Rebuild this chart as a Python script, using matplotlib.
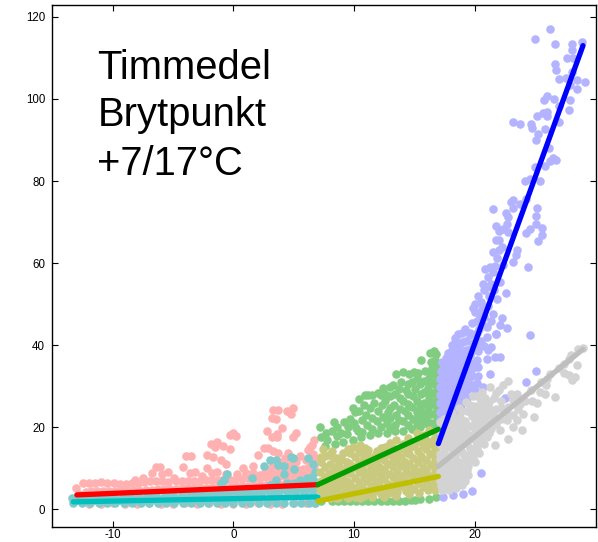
import matplotlib
matplotlib.use('Agg')
from matplotlib import pyplot as plt

# values, (outdoor temp, hourly mean)
pink = [(-13.1,5.3),(-12.5,6.3),(-12,6.5),(-11.5,6.4),(-11,6.6),(-10.5,6.5),(-9.9,6.4),(-9.4,6.2),(-8.9,6.2),(-8.4,6.4),
        (-7.9,6.5),(-7.4,6.7),(-6.9,6.9),(-6.4,6.8),(-5.9,6.9),(-5.4,6.6),(-4.8,6.8),(-4.3,6.9),(-3.8,7),(-3.3,6.9),
        (-2.8,7),(-2.3,7.1),(-1.8,7.2),(-1.3,7.1),(-0.8,7.3),(-0.3,7.2),(0.2,7.4),(0.7,7.3),(1.2,7.5),(1.7,7.6),
        (2.2,7.5),(2.7,7.8),(3.2,7.7),(3.7,7.9),(4.2,8),(4.7,8.2),(5.2,8.3),(5.7,8.6),(6.2,8.8),(6.7,9),
        (-12.8,3.8),(-12.2,4.2),(-11.8,4.4),(-11.3,4.5),(-10.8,4.5),(-10.3,4.5),(-9.8,4.5),(-9.3,4.6),(-8.8,4.6),(-8.3,4.7),
        (-7.8,4.7),(-7.3,4.8),(-6.8,4.8),(-6.3,4.9),(-5.8,5),(-5.3,5),(-4.8,5),(-4.3,5.1),(-3.8,5.2),(-3.3,5.2),
        (-2.8,5.3),(-2.3,5.3),(-1.8,5.4),(-1.3,5.5),(-0.8,5.5),(-0.3,5.5),(0.2,5.6),(0.7,5.7),(1.2,5.7),(1.7,5.8),
        (2.2,5.9),(2.7,6),(3.2,6.1),(3.7,6.1),(4.2,6.2),(4.7,6.3),(5.2,6.3),(5.7,6.4),(6.2,6.4),(6.8,6.5),
        (-12,1.4),(-11,1.4),(-10,1.5),(-9,1.4),(-8,1.4),(-7,1.5),(-6,1.4),(-5,1.4),(-4,1.5),(-3,1.4),(-2,1.5),(-1,1.4),
        (0,1.4),(1,1.4),(2,1.5),(3,1.4),(4,1.4),(5,1.5),(6,1.5),(6.8,1.5),
        (4.9,24.8),(4.4,23.9),(4.8,23.3),(3.7,24.3),(3.3,24.1),(3.2,22.3),(3.5,21.9),(4.05,19.7),(2.75,19),(3.6,18.3),
        (3.2,17.6),(3.6,17.5),(5.2,18.5),(4.96,17.5),(0,18.6),(-0.3,18.2),(0.2,17.8),(-1.9,15.9),(-1.4,16.3),(-0.9,15.4),
        (-1.5,15.2),(-0.25,14.6),(6.5,15.6),(6.2,14.4),(6.35,15.2),(2.5,15),(2.9,15),(3.3,14.2),(3.7,13.7),(4.55,13.7),
        (4.3,12.6),(2.05,13.2),(-2.2,13.2),(-1.7,12.8),(-3.9,13),(-3.5,13),(-1,12),(-0.6,11),(-6.4,10.3),(-6.1,10.3),
        (-4.2,10.2),(-2.2,10),(0.8,10),(1.64,10.5),(-5.4,9.1),(-5.9,8.5),(-6.8,8.9),(-3.2,9.1),(-3.6,8.9),(-1.8,8.9),
        (-1.4,9.1),(-4.9,7.7),(2.2,8.3),(3.3,8.7),(5.8,9.9),(6.4,11),(6.8,12.5),(6,12),(5.2,11.5),(4.6,10.8),
        (3.8,9.8),(2.8,9.6),(1,8.8),(-0.6,8.6),(-2.6,8),(-7.5,7.6),(-8.2,7.2),(6.6,13.4),(5.5,13),(6.7,17),
        (2.6,9),(3.2,10.2),(3.9,11.5),(4.8,10),(5.4,9.6),(6.2,10),(6.7,10.5),(1.6,8.8),(0.3,8.6),(4.4,9)]

teal = [(-13.4,2.8),(-13.3,1.6),(-12.7,3),(-12.6,1.6),(-12,3),(-11.9,1.5),(-11.3,3.1),(-11.2,1.6),(-10.6,3.2),(-10.5,1.5),
        (-9.9,3.1),(-9.8,1.5),(-9.2,3.2),(-9.1,1.6),(-8.5,3.3),(-8.4,1.5),(-7.8,3.2),(-7.7,1.6),(-7.1,3.4),(-7,1.5),
        (-6.4,3.5),(-6.3,1.6),(-5.7,3.5),(-5.6,1.5),(-5,3.6),(-4.9,1.6),(-4.3,3.7),(-4.2,1.5),(-3.6,3.7),(-3.5,1.6),
        (-2.9,3.8),(-2.8,1.5),(-2.2,3.9),(-2.1,1.6),(-1.5,4.1),(-1.4,1.5),(-0.8,4.2),(-0.7,1.6),(-0.1,4.4),(0,1.5),
        (0.6,4.4),(0.7,1.6),(1.3,4.5),(1.4,1.5),(2,4.6),(2.1,1.6),(2.7,4.6),(2.8,1.5),(3.4,4.8),(3.5,1.6),
        (4.1,4.9),(4.2,1.5),(4.8,5),(4.9,1.6),(5.5,5.1),(5.6,1.5),(6.2,5.2),(6.3,1.6),(6.8,5.3),(6.8,1.6),
        (-13,2.2),(-12.3,2.2),(-11.6,2.2),(-10.9,2.3),(-10.2,2.2),(-9.5,2.3),(-8.8,2.3),(-8.1,2.3),(-7.4,2.4),(-6.7,2.4),
        (-6,2.4),(-5.3,2.5),(-4.6,2.5),(-3.9,2.5),(-3.2,2.6),(-2.5,2.6),(-1.8,2.7),(-1.1,2.7),(-0.4,2.8),(0.3,2.8),
        (1,2.9),(1.7,3),(2.4,3),(3.1,3.1),(3.8,3.2),(4.5,3.2),(5.2,3.3),(5.9,3.4),(6.6,3.4),
        (-3.3,3.4),(-2.6,3.5),(-1.9,3.6),(-1.2,3.7),(-0.5,3.8),(0.2,3.9),(0.9,3.9),(1.6,4),(2.3,4.1),(3,4.2),(3.7,4.3),(4.4,4.3),
        (5.1,4.4),(5.8,4.5),(6.5,4.6),
        (-0.5,8.5),(-0.76,7.1),(-1,6.3),(1.56,7.7),(2.5,10.6),(3,12.1),(3.5,12.1),(3.66,10.7),(4.2,10.5),(4.8,12.8),
        (4.96,12.4),(5.05,9.9),(6.15,12.6),(6.6,11.1),(3.5,7.1),(4.2,8.5),(5.5,7.1),(6.1,7.5),(6.5,7.9),(4.4,6.3),
        (6.8,9),(6.3,6.6),(5.8,6.5),(6.7,7),(5,6.3),(3,6)]

green = [(7.2,20),(7.3,17.6),(7.7,18.5),(8.3,21.3),(8.2,19),(8.9,18.5),(9.67,22),(9.5,20),(10.1,23.7),(10,21),
         (10.3,19),(10.9,27.8),(11.2,27.8),(10.8,25.5),(11,23),(11.1,20.5),(11.7,26),(12.2,27.8),(12,24),(11.9,21.5),
         (12.6,26.4),(12.8,23.8),(12.7,21),(13,29.8),(13.4,28),(13.3,25.5),(13.5,23),(13.4,20.5),(13.5,33),(14.1,33.5),
         (13.9,31),(14.3,29),(14.1,26.5),(14.2,24),(14.1,21.5),(14.8,31),(14.9,27.5),(14.8,25),(14.9,22),(15.3,33.3),
         (15.5,30.5),(15.6,28),(15.5,25),(15.4,22.5),(15.6,36.3),(16.2,32),(16.1,29.5),(16.2,27),(16.1,24.5),(16,22),
         (16.6,38.6),(16.3,38.2),(16.7,36.3),(16.5,34.5),(16.8,33),(16.7,30.5),(16.8,28),(16.7,25.5),(16.8,23),(16.7,20.5),
         (7.6,15.5),(8.4,16),(9.1,16.5),(9.9,17),(10.6,17.5),(11.3,18),(12,18.5),(12.7,18.5),(13.4,19),(14.1,19),
         (14.8,19.5),(15.5,20),(16.2,20.5),(8.7,1.9),(9.7,1.9),(10.7,1.9),(11.7,2),(12.7,2),(13.7,2.1),(14.7,2.2),
         (15.5,2.4),(16.2,2.6),(16.8,2.9),(7.3,1.9),(8.2,1.9),(9.2,1.9),(10.2,1.9),(11.2,2),(12.2,2),(13.2,2),(14.2,2.1),(15.1,2.3),
         (7.8,16.8),(8.6,17.8),(9.4,18.4),(10.2,19.8),(10.7,21.8),(10.4,24),(11.3,24.6),(10.7,18.8),(11.5,19.6),(12.2,20),
         (11.5,22.2),(12.4,22.6),(12.3,25.4),(13,27.6),(13,24.8),(13,22.2),(13,19.8),(13.7,29.4),(13.8,27),(13.8,24.4),
         (13.7,21.8),(14.5,30.6),(14.5,28),(14.5,25.6),(14.5,23),(14.5,20.6),(15.2,32),(15.1,29.2),(15.2,26.4),(15.2,23.6),
         (15.2,21),(15.9,33.6),(15.8,31.2),(15.8,28.6),(15.8,26),(15.8,23.4),(15.8,21),(16.4,35.8),(16.4,33.2),(16.4,30.8),
         (16.4,28.4),(16.4,25.8),(16.4,23.2),(16.4,21),(16.8,37.8),(16.9,34.6),(16.9,31.8),(16.9,29.2),(16.9,26.8),(16.9,24.2),
         (16.9,21.8),(12,28.4),(11.5,27.8),(14.6,33),(16.9,19.8),(15,33.4),(10.4,26.8),(9.9,24.8),(9.2,21.2),(8.6,20),
         (12.6,28.2),(13.2,30.4),(12.4,29.6)]

olive = [(7.4,14.8),(7.9,13.2),(8.6,12.5),(9.1,13.6),(9.9,15.2),(10.5,15.6),(11.2,14.5),(11.9,14.2),(12.6,15.2),(13.5,16.8),
         (14.1,16),(14.6,16.6),(15.2,18.5),(15.8,18),(16.2,19.3),(16.7,18.8),(16.9,17.6),
         (7.3,11.5),(8,11),(8.7,10.8),(9.4,11.6),(10.1,12.8),(10.8,12.8),(11.5,12.6),(12.2,12.6),(12.9,13.5),(13.6,14),(14.3,14),(15,15.4),(15.7,15.6),(16.4,16),(16.9,15.4),
         (7.2,9),(7.9,8.8),(8.6,8.8),(9.3,9.2),(10,10.2),(10.7,10.4),(11.4,10.2),(12.1,10.4),(12.8,11),(13.5,11.6),(14.2,11.6),(14.9,12.6),(15.6,13),(16.3,13.4),(16.9,13),
         (7.3,6.8),(8,6.6),(8.7,6.6),(9.4,7),(10.1,7.6),(10.8,7.8),(11.5,7.8),(12.2,8.2),(12.9,8.6),(13.6,9),(14.3,9.2),(15,10),(15.7,10.4),(16.4,10.8),(16.9,10.6),
         (7.2,4.6),(7.9,4.6),(8.6,4.6),(9.3,4.8),(10,5.2),(10.7,5.4),(11.4,5.6),(12.1,5.8),(12.8,6.2),(13.5,6.6),(14.2,6.8),(14.9,7.4),(15.6,7.8),(16.3,8.2),(16.9,8),
         (7.3,2.8),(8,2.8),(8.7,2.8),(9.4,2.9),(10.1,3.1),(10.8,3.3),(11.5,3.5),(12.2,3.7),(12.9,3.9),(13.6,4.2),(14.3,4.5),(15,4.9),(15.7,5.4),(16.4,5.8),(16.9,5.6),
         (7.6,13),(8.3,12.6),(9,12),(9.7,13.6),(10.4,14),(11.1,13.6),(11.8,13.4),(12.5,13.8),(13.2,15),(13.9,15),(14.6,15),(15.3,16.6),(16,16.8),(16.6,17.2),
         (7.6,10.2),(8.3,9.8),(9,9.8),(9.7,11),(10.4,11.6),(11.1,11.4),(11.8,11.4),(12.5,12),(13.2,12.6),(13.9,12.8),(14.6,13.4),(15.3,14.2),(16,14.6),(16.7,14.4),
         (7.6,7.8),(8.3,7.6),(9,8),(9.7,8.8),(10.4,9),(11.1,9),(11.8,9.2),(12.5,9.8),(13.2,10.2),(13.9,10.6),(14.6,11),(15.3,11.6),(16,12),(16.7,12),
         (7.6,5.6),(8.3,5.6),(9,5.8),(9.7,6.2),(10.4,6.6),(11.1,6.8),(11.8,7),(12.5,7.4),(13.2,7.8),(13.9,8),(14.6,8.6),(15.3,9),(16,9.6),(16.7,9.4),
         (7.6,3.7),(8.3,3.7),(9,3.8),(9.7,3.9),(10.4,4.2),(11.1,4.4),(11.8,4.6),(12.5,4.9),(13.2,5.2),(13.9,5.6),(14.6,6),(15.3,6.4),(16,6.9),(16.7,6.8),
         (16.7,4.6),(16.1,4.6),(15.4,4),(14.6,3.6),(13.5,3.3),(12.5,3),(11.5,2.9),(10.5,2.8),(9.5,2.7),(8.5,2.7),
         (8,8.2),(8.9,6.9),(9.4,10.4),(10.8,9),(11.4,8.4),(12.2,9.1),(13.6,7.4),(14.3,10.2),(15,8.8),(15.8,8.8),
         (7.3,12.8),(8.2,14.2),(9.5,14.6),(10.9,15),(12.2,15),(13,16.2),(14.5,17.4),(15.6,17.4)]

blue = [(26.27,117),(25,114.6),(26.7,113.5),(28.1,113.4),(28.95,113.9),(28.1,111.9),(27.65,110.1),(28.15,110.1),(26.65,108.4),(26.8,107),
        (28.05,106.6),(27.05,104.8),(27.55,105.2),(28.5,104.6),(29.2,104.2),(27.9,103.4),(28.5,102.4),(26,100.8),(25.8,99.8),(26.6,100),
        (27.9,99.8),(27.05,98.4),(27.8,97.4),(25.15,95.9),(25.7,96.5),(26,96.9),(26,95.9),(23.2,94.3),(23.8,94),(24.7,94),
        (24.8,93),(25.85,92.6),(27,94.4),(25.3,91.4),(25.1,90.1),(26.2,88.1),(26.55,85.6),(26.8,85.2),(26.3,84.8),(25.85,83.7),
        (25,83.5),(24.15,80),(24.6,80.6),(25.45,80),(23.2,75.3),(23,74.9),(23.8,74.5),(23.2,73.5),(24.3,75.7),(21.5,73.3),
        (25.15,73.5),(22.6,72.1),(22.8,71.3),(25.1,71.5),(25.1,69.6),(21.8,69.1),(22.7,69.6),(22.4,68.4),(22.05,67.8),(22.8,67.6),
        (24.6,68.4),(24.25,67.3),(25.6,68.6),(25.6,66.8),(25.3,65.5),(21.75,65.6),(22,65.7),(22.25,63.9),(22,63.1),(21.55,62.6),
        (21.85,61.3),(23.5,63.1),(23.45,61.9),(23.2,60.3),(24.4,59.1),(20.9,58.5),(21.3,59.1),(21.7,59.2),(22.4,59.5),(21.15,56.6),
        (21.4,55),(22.1,55.4),(20.75,53.4),(21,54.2),(22.6,52.6),(20.05,50.1),(21.85,51.3),(20.5,50.5),(21.55,47.7),(22.3,46.5),
        (22.1,45),(22.7,44.1),(21.75,42.6),(24.6,42.4),(18.65,42.8),(18.4,41.8),(20.2,46),(20.75,46.9),(21,44.4),(19.65,42.4),
        (20.6,48.9),(21.76,42.7),(21.4,39.6),(21.15,38.8),(21,36.7),(21.7,37.2),(22.1,37.2),(21.3,33),(25.07,33.6),(24.25,30.9),
        (20.7,29.8),(22.5,27.2),(20.55,8.9),(19.75,4.4),(19.05,3.8),(18.2,3.4),(17.4,3),(20,48),(19.8,45.5),(20.4,44),
        (19.2,44),(19.3,41),(19.9,40.5),(20.5,41),(18.1,40),(18.7,39.8),(20.3,38.5),(17.8,38),(18.4,37.8),(19,38),
        (19.6,37.6),(20.2,36.5),(17.3,36),(17.9,35.8),(18.5,35.7),(19.1,35.9),(19.7,35.5),(20.3,34.6),(17.2,33.8),(17.8,33.8),
        (18.4,33.6),(19,33.7),(19.6,33.4),(20.3,32.6),(17.1,31.8),(17.7,31.7),(18.3,31.6),(18.9,31.7),(19.5,31.4),(20.2,30.8),
        (17.1,29.8),(17.7,29.6),(18.3,29.6),(18.9,29.5),(19.5,29.4),(20,29),(17.1,27.8),(17.7,27.6),(18.3,27.6),(18.9,27.4),
        (19.4,27.2),(17.1,25.8),(17.7,25.6),(18.3,25.5),(18.9,25.3),(17.1,23.8),(17.7,23.6),(18.3,23.5),(17.1,21.8),(17.7,21.6),
        (18.2,21.5),(17.1,19.8),(17.6,19.8),(17.1,18),(17.6,18),
        (18.4,40.8),(19,40.8),(19.6,39),(20.2,39.6),(20.8,39.8),(18.1,38.8),(18.7,38.8),(19.3,38.8),(19.9,38.8),(17.6,36.8),
        (18.2,36.8),(18.8,36.8),(19.4,36.8),(20,36),(17.5,34.8),(18.1,34.8),(18.7,34.8),(19.3,34.8),(19.9,34.5),(17.4,32.8),
        (18,32.8),(18.6,32.8),(19.2,32.8),(19.8,32.4),(17.4,30.8),(18,30.8),(18.6,30.8),(19.2,30.6),(19.8,30.2),(17.4,28.8),
        (18,28.8),(18.6,28.8),(19.2,28.6),(17.4,26.8),(18,26.6),(18.6,26.6),(17.4,24.8),(18,24.6),(18.6,24.5),(17.4,22.8),
        (18,22.6),(17.4,20.8),(19.6,43),(20.2,43),(19,43),(20.4,47.5),(19.9,49),(20.3,52),(20.7,55),(21.5,57.8),
        (21.2,52),(21.6,53.5),(21.1,49.5),(21.4,46),(21,42),(20.6,45.5)]

grey = [(28.98,39.4),(28.6,39),(27.87,36.7),(28.5,35.1),(27.4,33.1),(27.8,32.7),(28.3,32.3),(28.05,31.5),(25.9,30.2),(25.85,28.2),
        (26.7,27.4),(24.75,26.4),(25.15,26),(24.9,22.4),(23.9,19.4),(22.8,17.2),(21.7,15.6),(22.8,31.3),(22.4,30.2),(22,29),
        (21.3,29.8),(20.6,28.6),(23.5,28.2),(23.2,26.6),(22.8,25),(24.05,23.3),(23.5,21.7),(22.7,21.7),(22.1,19.3),(23.2,20.1),
        (27,34.5),(26.3,33),(25.5,31),(24.7,29),(24.2,26.5),(23.6,24.5),(22.2,26.5),(21.6,27.2),(20.9,27),(20.2,27.6),
        (19.9,27.6),(19.3,26.2),(18.7,24.8),(18.1,23.4),(17.5,22),(17.1,21.2),(21.8,24.4),(21.2,24.8),(20.6,25.2),(20,25.2),
        (19.4,24),(18.8,22.6),(18.2,21.2),(17.6,20),(17.1,19),(22.2,22),(21.6,22),(21,22.4),(20.4,22.8),(19.8,22.8),
        (19.2,21.6),(18.6,20.4),(18,19.2),(17.4,18),(17.1,16.6),(21.4,19.6),(20.8,20),(20.2,20.4),(19.6,20.4),(19,19.2),
        (18.4,18),(17.8,17),(17.2,15.6),(21,17.6),(20.5,17.8),(19.9,18),(19.3,17),(18.7,16),(18.1,15),(17.5,14),
        (17.1,13.4),(20.8,15.8),(20.2,15.8),(19.6,15),(19,14),(18.4,13),(17.8,12),(17.2,11.2),(20.4,13.8),(19.9,13.4),
        (19.3,12.4),(18.7,11.4),(18.1,10.4),(17.5,9.8),(17.1,9),(20,11.6),(19.5,10.6),(18.9,9.6),(18.3,8.8),(17.7,8),
        (17.1,7),(19.5,8.4),(19,7.6),(18.4,6.8),(17.8,6.2),(17.2,5.6),(19,6),(18.5,5.2),(17.9,4.6),(17.3,4.8),
        (20.5,26.4),(21.2,26.2),(19.6,25.4),(18.9,24),(18.3,22.6),(17.7,21.2),(21.5,23.2),(20.9,23.6),(20.3,24),(19.7,23.6),
        (19,21.2),(18.4,20),(17.8,18.6),(17.3,17.4),(21.8,20.8),(21.2,21),(20.6,21.4),(20,21.6),(19.4,20.2),(18.8,18.8),
        (18.2,17.6),(17.6,16.4),(21.2,18.6),(20.6,18.9),(20,19.2),(19.4,18.4),(18.8,17.4),(18.2,16.4),(17.6,15.2),(20.6,16.8),
        (20,16.9),(19.4,16),(18.8,15),(18.2,14),(17.6,13),(17.1,12.2),(20.2,14.8),(19.7,14.2),(19.1,13.2),(18.5,12),
        (17.9,11),(17.4,10.4),(19.9,12.6),(19.4,11.6),(18.8,10.6),(18.2,9.6),(17.6,9),(17.1,8.2),(19.4,9.6),(18.8,8.7),
        (18.2,7.8),(17.6,7.1),(19.2,7),(18.7,6.4),(18.1,5.7),(17.5,5),(22.7,23.4),(23.2,23),(22.2,24.6),(23,28),
        (21.8,28.4),(23.8,25.6),(25.4,28.5),(26,31.8),(27.4,35.5),(28,37.5)]

red_x, red_y = [-13, 7], [3.5, 6]
teal_x, teal_y = [-13.3, 7], [1.8, 3]
green_x, green_y = [7, 17], [6, 19.5]
olive_x, olive_y = [7, 17], [2, 8]
blue_x, blue_y = [17, 29], [16, 113]
grey_x, grey_y = [17, 29], [10.5, 39]

plt.rcParams['font.family'] = ['Liberation Sans', 'DejaVu Sans']
plt.rcParams['axes.unicode_minus'] = False

fig = plt.figure(figsize=(5.98, 5.42), dpi=100)
ax = fig.add_axes([52 / 598, 1 - 526.5 / 542, 544 / 598, 521.5 / 542])

for pts, col in [(pink, '#FFB0B0'), (teal, '#7FCBCB'), (green, '#80CC80'),
                 (olive, '#C9C97F'), (blue, '#B3B3FF'), (grey, '#D3D3D3')]:
    ax.scatter([p[0] for p in pts], [p[1] for p in pts], s=38, color=col, linewidths=0, clip_on=False)

for xs, ys, col in [(red_x, red_y, '#FF0000'), (teal_x, teal_y, '#00BFBF'), (green_x, green_y, '#009E00'),
                    (olive_x, olive_y, '#BFBF00'), (blue_x, blue_y, '#0000FF'), (grey_x, grey_y, '#BEBEBE')]:
    ax.plot(xs, ys, color=col, lw=3.8, solid_capstyle='round')

ax.set_xlim(-15.06, 30.08)
ax.set_ylim(-4.2, 122.9)
ax.set_xticks([-10, 0, 10, 20])
ax.set_yticks([0, 20, 40, 60, 80, 100, 120])
ax.tick_params(direction='in', top=True, right=True, length=4, width=0.8, labelsize=8.3)
ax.tick_params(axis='x', pad=1.5)
ax.tick_params(axis='y', pad=5)
for side in ax.spines:
    ax.spines[side].set_linewidth(1.0)

ax.text(-11.3, 104.9, 'Timmedel', fontsize=28.8)
ax.text(-11.3, 93.4, 'Brytpunkt', fontsize=28.8)
ax.text(-11.3, 81.5, '+7/17°C', fontsize=28.8)

fig.savefig('out.png', dpi=100)
